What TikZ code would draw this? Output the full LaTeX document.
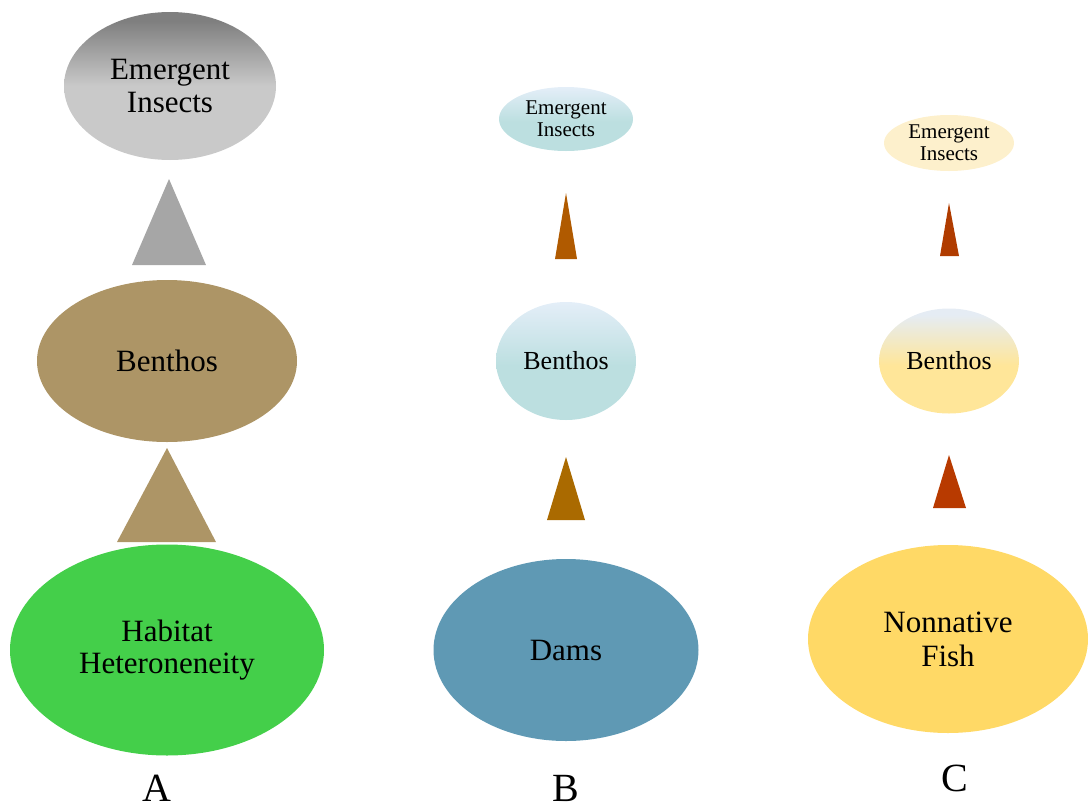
\documentclass[tikz,border=0pt]{standalone}
\usepackage{fontspec}
\setmainfont{Liberation Serif}
\usetikzlibrary{shapes.geometric}
\definecolor{gAtop}{HTML}{7F7F7F}
\definecolor{gAbot}{HTML}{C9C9C9}
\definecolor{tAtop}{HTML}{A6A6A6}
\definecolor{benA}{HTML}{AD9566}
\definecolor{habA}{HTML}{44CF4A}
\definecolor{bTop}{HTML}{E4EEF8}
\definecolor{bBot}{HTML}{BCDFE0}
\definecolor{triB1}{HTML}{B05A00}
\definecolor{triB2}{HTML}{AA6A00}
\definecolor{damB}{HTML}{5F99B4}
\definecolor{cEm}{HTML}{FDF0CC}
\definecolor{cTop}{HTML}{E5ECF4}
\definecolor{cBot}{HTML}{FFE699}
\definecolor{triC1}{HTML}{B03C00}
\definecolor{triC2}{HTML}{B83A00}
\definecolor{fishC}{HTML}{FFD966}
\pgfdeclareverticalshading{shadeA}{100bp}{color(0bp)=(gAbot); color(50bp)=(gAbot); color(72bp)=(gAtop); color(100bp)=(gAtop)}
\pgfdeclareverticalshading{shadeB}{100bp}{color(0bp)=(bBot); color(48bp)=(bBot); color(75bp)=(bTop); color(100bp)=(bTop)}
\pgfdeclareverticalshading{shadeC}{100bp}{color(0bp)=(cBot); color(48bp)=(cBot); color(72bp)=(cTop); color(100bp)=(cTop)}
\tikzset{
  oval/.style={ellipse, inner sep=0pt, align=center, text=black},
  big/.style={font=\fontsize{31}{32.5}\selectfont},
  mid/.style={font=\fontsize{26}{28}\selectfont},
  small/.style={font=\fontsize{21}{22}\selectfont},
  lab/.style={font=\fontsize{40}{40}\selectfont}
}
\begin{document}
\begin{tikzpicture}[x=1pt,y=-1pt]
\useasboundingbox (0,0) rectangle (1088,809);
% Column A
\node[oval, big, shading=shadeA, minimum width=212pt, minimum height=148pt] (aem) at (170,86) {Emergent\\Insects};
\node[oval, big, fill=benA, minimum width=260pt, minimum height=162pt] (aben) at (167,361) {Benthos};
\node[oval, big, fill=habA, minimum width=314pt, minimum height=211pt] (ahab) at (167,650) {Habitat\\Heteroneneity};
\fill[tAtop] (169,179) -- (206,265) -- (132,265) -- cycle;
\fill[benA] (167,448) -- (216,542) -- (117,542) -- cycle;
\node[lab] (la) at (157,788) {A};
% Column B
\node[oval, small, shading=shadeB, minimum width=134pt, minimum height=64pt] (bem) at (566,119) {Emergent\\Insects};
\node[oval, mid, shading=shadeB, minimum width=140pt, minimum height=118pt] (bben) at (566,361) {Benthos};
\node[oval, big, fill=damB, minimum width=265pt, minimum height=182pt] (bdam) at (566,650) {Dams};
\fill[triB1] (566,193) -- (577,259) -- (555,259) -- cycle;
\fill[triB2] (566,457) -- (585,520) -- (547,520) -- cycle;
\node[lab] (lb) at (566,788) {B};
% Column C
\node[oval, small, fill=cEm, minimum width=130pt, minimum height=56pt] (cem) at (949,143) {Emergent\\Insects};
\node[oval, mid, shading=shadeC, minimum width=140pt, minimum height=105pt] (cben) at (949,361) {Benthos};
\node[oval, font=\fontsize{31}{34}\selectfont, fill=fishC, minimum width=280pt, minimum height=188pt] (cfish) at (948,639) {Nonnative\\Fish};
\fill[triC1] (949,203) -- (959,256) -- (940,256) -- cycle;
\fill[triC2] (949,455) -- (966,508) -- (933,508) -- cycle;
\node[lab] (lc) at (955,778) {C};
\end{tikzpicture}
\end{document}
